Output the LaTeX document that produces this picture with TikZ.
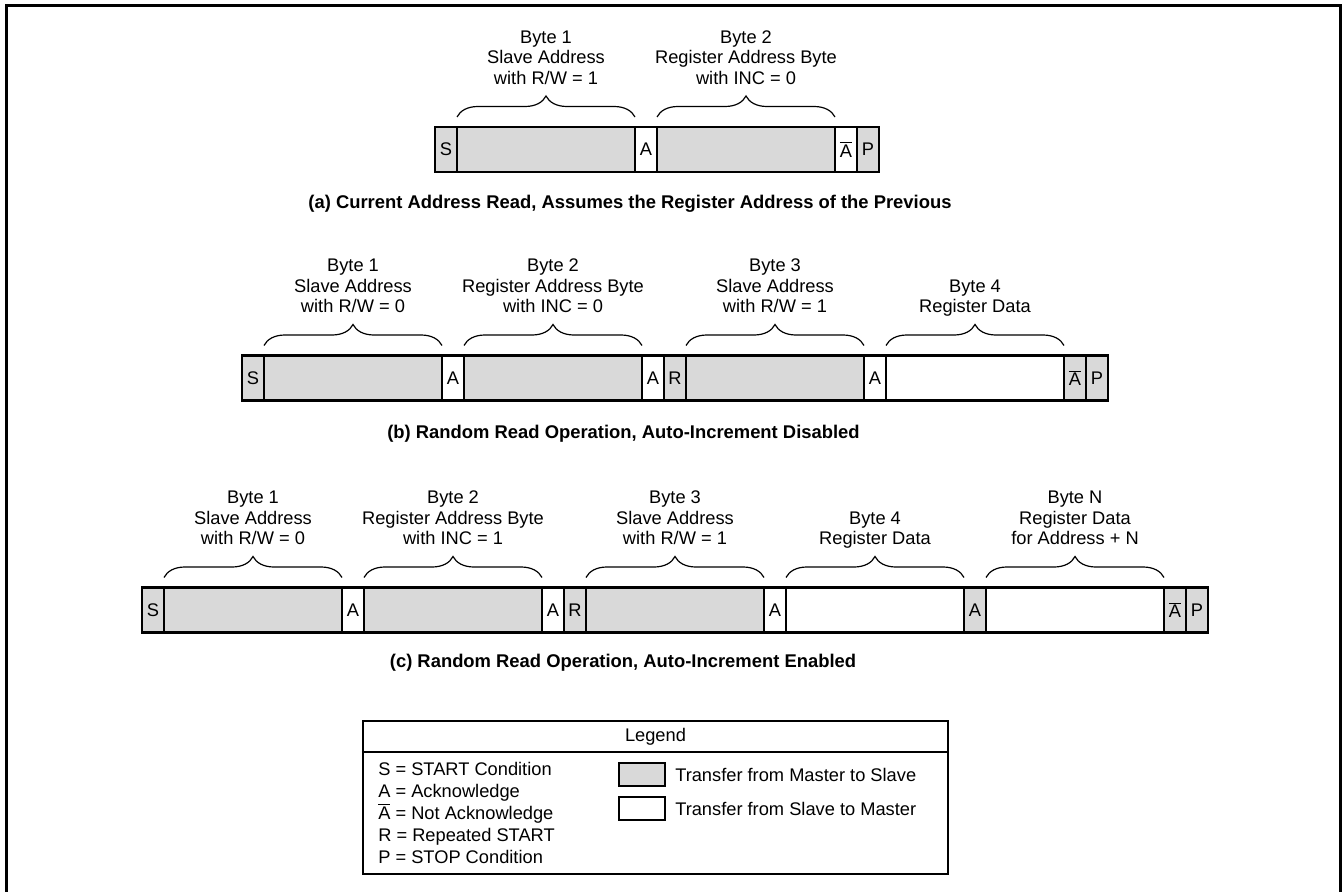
\documentclass[tikz,border=0pt]{standalone}
\usepackage{fontspec}
\setmainfont{Liberation Sans}
\usetikzlibrary{
  positioning,
  decorations.pathreplacing
}
\definecolor{busgray}{HTML}{D9D9D9}
\newcommand{\nack}{$\overline{\mbox{A}}$}
\newcommand{\bytebrace}[2]{%
  \draw[brc] ([yshift=7.5pt]#1.north west) -- ([yshift=7.5pt]#1.north east);
  \coordinate (#1tip) at ([yshift=23.25pt]#1.north);
  \node[lbl, above=4pt of #1tip] (#1txt) {#2\strut};
}
\tikzset{
  cell/.style={
    rectangle,
    draw,
    line width=1.6pt,
    outer sep=0pt,
    inner sep=0pt,
    minimum height=33.75pt
  },
  gcell/.style={cell, fill=busgray, minimum width=16.5pt},
  wcell/.style={cell, fill=white, minimum width=16.5pt},
  gbyte/.style={cell, fill=busgray, minimum width=133.5pt},
  wbyte/.style={cell, fill=white, minimum width=133.5pt},
  brc/.style={
    decorate,
    decoration={brace, amplitude=15.75pt},
    line width=0.9pt
  },
  lbl/.style={align=center, inner sep=0pt},
  captext/.style={inner sep=0pt, font=\bfseries\fontsize{13.8}{15.4}\selectfont},
  lgd/.style={inner sep=0pt},
  swatch/.style={
    rectangle,
    draw,
    line width=1.6pt,
    outer sep=0pt,
    minimum width=34.5pt,
    minimum height=17.25pt
  }
}
\begin{document}
\begin{tikzpicture}[x=0.75pt, y=-0.75pt, font=\fontsize{13.7}{15.4}\selectfont]
\useasboundingbox (0,0) rectangle (1343,892);
% frame
\draw[line width=2.25pt, line join=miter] (6,892) -- (6,6) -- (1340.5,6) -- (1340.5,892);

% (a) current address read
\node[gcell, anchor=west] (aS) at (435,149.5) {S};
\node[gbyte, right=0pt of aS] (a1) {};
\node[wcell, right=0pt of a1] (aA1) {A};
\node[gbyte, right=0pt of aA1] (a2) {};
\node[wcell, right=0pt of a2] (aN) {\nack};
\node[gcell, right=0pt of aN] (aP) {P};
\bytebrace{a1}{Byte 1\\Slave Address\\with R/W = 1}
\bytebrace{a2}{Byte 2\\Register Address Byte\\with INC = 0}
\node[captext] (capa) at (630,204) {(a) Current Address Read, Assumes the Register Address of the Previous};

% (b) random read, no increment
\node[gcell, anchor=west] (bS) at (242,378) {S};
\node[gbyte, right=0pt of bS] (b1) {};
\node[wcell, right=0pt of b1] (bA1) {A};
\node[gbyte, right=0pt of bA1] (b2) {};
\node[wcell, right=0pt of b2] (bA2) {A};
\node[gcell, right=0pt of bA2] (bR) {R};
\node[gbyte, right=0pt of bR] (b3) {};
\node[wcell, right=0pt of b3] (bA3) {A};
\node[wbyte, right=0pt of bA3] (b4) {};
\node[gcell, right=0pt of b4] (bN) {\nack};
\node[gcell, right=0pt of bN] (bP) {P};
\bytebrace{b1}{Byte 1\\Slave Address\\with R/W = 0}
\bytebrace{b2}{Byte 2\\Register Address Byte\\with INC = 0}
\bytebrace{b3}{Byte 3\\Slave Address\\with R/W = 1}
\bytebrace{b4}{Byte 4\\Register Data}
\node[captext] (capb) at (623.5,434) {(b) Random Read Operation, Auto-Increment Disabled};

% (c) random read, auto-increment
\node[gcell, anchor=west] (cS) at (142,610) {S};
\node[gbyte, right=0pt of cS] (c1) {};
\node[wcell, right=0pt of c1] (cA1) {A};
\node[gbyte, right=0pt of cA1] (c2) {};
\node[wcell, right=0pt of c2] (cA2) {A};
\node[gcell, right=0pt of cA2] (cR) {R};
\node[gbyte, right=0pt of cR] (c3) {};
\node[wcell, right=0pt of c3] (cA3) {A};
\node[wbyte, right=0pt of cA3] (c4) {};
\node[gcell, right=0pt of c4] (cA4) {A};
\node[wbyte, right=0pt of cA4] (c5) {};
\node[gcell, right=0pt of c5] (cN) {\nack};
\node[gcell, right=0pt of cN] (cP) {P};
\bytebrace{c1}{Byte 1\\Slave Address\\with R/W = 0}
\bytebrace{c2}{Byte 2\\Register Address Byte\\with INC = 1}
\bytebrace{c3}{Byte 3\\Slave Address\\with R/W = 1}
\bytebrace{c4}{Byte 4\\Register Data}
\bytebrace{c5}{Byte N\\Register Data\\for Address + N}
\node[captext] (capc) at (623,663) {(c) Random Read Operation, Auto-Increment Enabled};

% legend
\node[draw, line width=1.8pt, minimum width=438.75pt, minimum height=114.75pt, inner sep=0pt] (legend) at (655.5,797.5) {};
\coordinate (hdr) at (655.5,752);
\draw[line width=1.6pt] (legend.west |- hdr) -- (legend.east |- hdr);
\node[lgd] (lgtitle) at (655.5,737) {Legend};
\node[lgd, anchor=base west] (lgS) at (378,775) {S = START Condition};
\node[lgd, anchor=base west] (lgA) at (378,797) {A = Acknowledge};
\node[lgd, anchor=base west] (lgN) at (378,819) {\nack{} = Not Acknowledge};
\node[lgd, anchor=base west] (lgR) at (378,841) {R = Repeated START};
\node[lgd, anchor=base west] (lgP) at (378,863) {P = STOP Condition};
\node[swatch, fill=busgray] (swm) at (642,774.5) {};
\node[swatch, fill=white] (sws) at (642,808.5) {};
\node[lgd, right=7.5pt of swm] (lgm) {Transfer from Master to Slave};
\node[lgd, right=7.5pt of sws] (lgs) {Transfer from Slave to Master};
\end{tikzpicture}
\end{document}
